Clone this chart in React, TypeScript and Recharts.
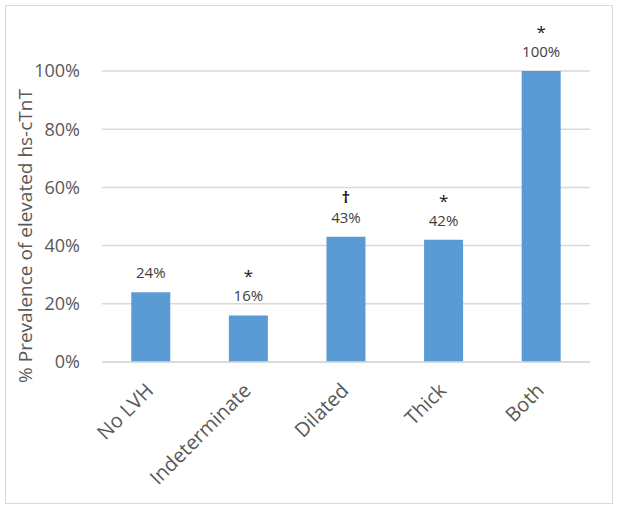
import { BarChart, Bar, XAxis, YAxis, CartesianGrid, LabelList, Label } from 'recharts'

const categories = ['No LVH', 'Indeterminate', 'Dilated', 'Thick', 'Both']
const prevalence = [24, 16, 43, 42, 100]
const markers = ['', '*', '†', '*', '*']
const yTicks = [0, 20, 40, 60, 80, 100]

const chartData = categories.map((name, i) => ({ name, value: prevalence[i], marker: markers[i] }))

const FONT = '"Open Sans", Calibri, sans-serif'

// rotated category label, anchored at its right end under the tick
function AngledTick(props: any) {
  const { x, y, payload } = props
  return (
    <g transform={`translate(${x - 6},${y + 12})`}>
      <text x={0} y={0} dy={14} textAnchor="end" transform="rotate(-45)" fill="#595959" fontSize={20} fontFamily={FONT}>
        {payload.value}
      </text>
    </g>
  )
}

function ValueLabel(props: any) {
  const { x, y, width, value, index } = props
  const cx = x + width / 2
  const mark = markers[index]
  return (
    <g>
      <text x={cx} y={y - 14} textAnchor="middle" fill="#404040" fontSize={15} fontFamily={FONT}>
        {value}%
      </text>
      {mark && (
        <text
          x={cx}
          y={mark === '*' ? y - 33 : y - 34}
          textAnchor="middle"
          fill="#1a1a1a"
          fontSize={mark === '*' ? 17 : 16}
          fontWeight={mark === '*' ? 'normal' : 'bold'}
          fontFamily={FONT}
        >
          {mark}
        </text>
      )}
    </g>
  )
}

export default function App() {
  return (
    <div style={{ position: 'absolute', left: 0, top: 0, width: 618, height: 510, background: '#fff' }}>
      <div style={{ position: 'absolute', left: 5, top: 5, width: 606, height: 497, border: '1px solid #d9d9d9' }} />
      <BarChart
        width={618}
        height={510}
        data={chartData}
        margin={{ top: 71, right: 28, bottom: 8, left: 22 }}
        barCategoryGap="30%"
      >
        <CartesianGrid vertical={false} stroke="#d9d9d9" strokeWidth={1.5} />
        <XAxis
          dataKey="name"
          height={140}
          interval={0}
          tickLine={false}
          axisLine={{ stroke: '#d9d9d9', strokeWidth: 1.5 }}
          tick={<AngledTick />}
        />
        <YAxis
          width={80}
          domain={[0, 100]}
          ticks={yTicks}
          tickFormatter={(v: number) => `${v}%`}
          tickLine={false}
          axisLine={false}
          tickMargin={16}
          tick={{ fill: '#595959', fontSize: 18, fontFamily: FONT }}
        >
          <Label
            content={() => (
              <text
                x={32}
                y={236}
                transform="rotate(-90, 32, 236)"
                textAnchor="middle"
                fill="#595959"
                fontSize={19}
                fontFamily={FONT}
              >
                % Prevalence of elevated hs-cTnT
              </text>
            )}
          />
        </YAxis>
        <Bar dataKey="value" fill="#5b9bd5" isAnimationActive={false}>
          <LabelList dataKey="value" content={<ValueLabel />} />
        </Bar>
      </BarChart>
    </div>
  )
}
